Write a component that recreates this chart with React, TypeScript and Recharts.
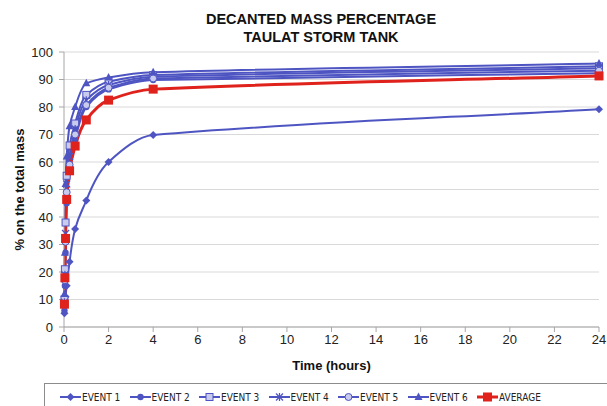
import React from 'react';
import { LineChart, Line, XAxis, YAxis, CartesianGrid, Legend } from 'recharts';

// time in hours, values in % of total mass
const TIME = [0.02, 0.04, 0.07, 0.12, 0.25, 0.5, 1, 2, 4, 24];
const EVENT1 = [5, 8, 11, 15, 23.7, 35.6, 46, 60, 69.8, 79.2];
const EVENT2 = [6, 15, 27, 45, 57, 68, 80, 86.4, 89.8, 92.3];
const EVENT3 = [10, 21, 38, 55, 66, 74, 84.4, 89.2, 91.6, 94.8];
const EVENT4 = [9, 19, 34, 52, 62, 72, 82.5, 88, 91, 94.1];
const EVENT5 = [8, 17, 31, 49, 59, 70, 80.7, 87, 90.4, 93.2];
const EVENT6 = [12, 27, 52, 62, 73, 80, 88.6, 90.7, 92.6, 95.8];
const AVERAGE = [8.3, 17.9, 32.2, 46.4, 56.8, 65.8, 75.3, 82.5, 86.5, 91.3];

const X_TICKS = [0, 2, 4, 6, 8, 10, 12, 14, 16, 18, 20, 22, 24];
const Y_TICKS = [0, 10, 20, 30, 40, 50, 60, 70, 80, 90, 100];

const BLUE = '#4e55c2';
const RED = '#e0221c';

const SERIES = [
  { key: 'e1', name: 'EVENT 1', values: EVENT1, color: BLUE, shape: 'diamond' },
  { key: 'e2', name: 'EVENT 2', values: EVENT2, color: BLUE, shape: 'circle' },
  { key: 'e3', name: 'EVENT 3', values: EVENT3, color: BLUE, shape: 'openSquare' },
  { key: 'e4', name: 'EVENT 4', values: EVENT4, color: BLUE, shape: 'star' },
  { key: 'e5', name: 'EVENT 5', values: EVENT5, color: BLUE, shape: 'openCircle' },
  { key: 'e6', name: 'EVENT 6', values: EVENT6, color: BLUE, shape: 'triangle' },
  { key: 'avg', name: 'AVERAGE', values: AVERAGE, color: RED, shape: 'square' },
];

const data = TIME.map((t, i) => {
  const row: Record<string, number> = { t };
  SERIES.forEach((s) => { row[s.key] = s.values[i]; });
  return row;
});

// smoothing close to the spreadsheet look: monotone hermite with a softer tangent
// (keeps the long 4h -> 24h segment nearly straight)
function smoothCurve(ctx: any) {
  let pts: number[][] = [];
  return {
    areaStart() {},
    areaEnd() {},
    lineStart() { pts = []; },
    point(x: number, y: number) { pts.push([+x, +y]); },
    lineEnd() {
      const n = pts.length;
      if (!n) return;
      ctx.moveTo(pts[0][0], pts[0][1]);
      if (n === 1) return;
      const s: number[] = [];
      for (let i = 0; i < n - 1; i++) {
        const dx = pts[i + 1][0] - pts[i][0];
        s.push(dx ? (pts[i + 1][1] - pts[i][1]) / dx : 0);
      }
      const m = pts.map((_, i) => {
        if (i === 0) return s[0];
        if (i === n - 1) return s[n - 2];
        const a = Math.abs(s[i - 1]);
        const b = Math.abs(s[i]);
        if (s[i - 1] * s[i] <= 0) return 0;
        return Math.sign(s[i]) * Math.min(1.5 * Math.min(a, b), Math.max(a, b));
      });
      for (let i = 0; i < n - 1; i++) {
        const [x0, y0] = pts[i];
        const [x1, y1] = pts[i + 1];
        const h = (x1 - x0) / 3;
        if (!h) { ctx.lineTo(x1, y1); continue; }
        ctx.bezierCurveTo(x0 + h, y0 + m[i] * h, x1 - h, y1 - m[i + 1] * h, x1, y1);
      }
    },
  };
}

function Marker({ cx, cy, shape, color }: { cx: number; cy: number; shape: string; color: string }) {
  switch (shape) {
    case 'diamond':
      return <polygon points={`${cx},${cy - 4} ${cx + 4},${cy} ${cx},${cy + 4} ${cx - 4},${cy}`} fill={color} />;
    case 'circle':
      return <circle cx={cx} cy={cy} r={3.2} fill={color} />;
    case 'openSquare':
      return <rect x={cx - 3.5} y={cy - 3.5} width={7} height={7} fill="#c8cbee" stroke={color} strokeWidth={1} />;
    case 'star':
      return (
        <g stroke={color} strokeWidth={1.2}>
          <line x1={cx - 3.5} y1={cy - 3.5} x2={cx + 3.5} y2={cy + 3.5} />
          <line x1={cx - 3.5} y1={cy + 3.5} x2={cx + 3.5} y2={cy - 3.5} />
          <line x1={cx} y1={cy - 4} x2={cx} y2={cy + 4} />
        </g>
      );
    case 'openCircle':
      return <circle cx={cx} cy={cy} r={3.5} fill="#c8cbee" stroke={color} strokeWidth={1} />;
    case 'triangle':
      return <polygon points={`${cx},${cy - 4.5} ${cx + 4},${cy + 3} ${cx - 4},${cy + 3}`} fill={color} />;
    default:
      return <rect x={cx - 4.5} y={cy - 4.5} width={9} height={9} fill={color} />;
  }
}

function LegendBox() {
  return (
    <div style={{ display: 'flex', alignItems: 'center', height: 26, paddingLeft: 15, fontFamily: '"Liberation Sans Narrow", "DejaVu Sans Condensed", "Liberation Sans", Arial, sans-serif', fontStretch: 'condensed', fontSize: 10, color: '#222', whiteSpace: 'nowrap' }}>
      {SERIES.map((s) => (
        <div key={s.key} style={{ display: 'flex', alignItems: 'center', width: 69.5, flex: 'none' }}>
          <svg width={21} height={10} style={{ flex: 'none' }}>
            <line x1={0} y1={5} x2={21} y2={5} stroke={s.color} strokeWidth={s.key === 'avg' ? 3 : 2} />
            <Marker cx={10.5} cy={5} shape={s.shape} color={s.color} />
          </svg>
          <span style={{ marginLeft: 1 }}>{s.name}</span>
        </div>
      ))}
    </div>
  );
}

export default function App() {
  return (
    <div style={{ position: 'absolute', left: 0, top: 0, width: 607, height: 406, background: '#fff', overflow: 'hidden' }}>
      <div style={{ position: 'absolute', left: 0, top: 10, width: 642, textAlign: 'center', fontFamily: '"Liberation Sans", Arial, sans-serif', fontWeight: 'bold', fontSize: 14.5, lineHeight: '18px', color: '#111' }}>
        DECANTED MASS PERCENTAGE<br />TAULAT STORM TANK
      </div>
      <LineChart width={607} height={406} data={data} margin={{ top: 52, right: 8, bottom: 44, left: 0 }}>
        <CartesianGrid vertical={false} stroke="#d9d9d9" />
        <XAxis
          dataKey="t"
          type="number"
          domain={[0, 24]}
          ticks={X_TICKS}
          stroke="#a6a6a6"
          tickSize={5}
          tickMargin={3}
          height={35}
          tick={{ fill: '#222', fontFamily: '"Liberation Sans", Arial, sans-serif', fontSize: 13 }}
          label={(p: any) => (
            <text x={p.viewBox.x + p.viewBox.width / 2} y={370} textAnchor="middle" fontFamily='"Liberation Sans", Arial, sans-serif' fontWeight="bold" fontSize={13} fill="#111">
              Time (hours)
            </text>
          )}
        />
        <YAxis
          domain={[0, 100]}
          ticks={Y_TICKS}
          width={64}
          stroke="#a6a6a6"
          tickSize={5}
          tickMargin={6}
          tick={{ fill: '#222', fontFamily: '"Liberation Sans", Arial, sans-serif', fontSize: 13 }}
          label={(p: any) => (
            <text x={24} y={p.viewBox.y + p.viewBox.height / 2} transform={`rotate(-90 24 ${p.viewBox.y + p.viewBox.height / 2})`} textAnchor="middle" fontFamily='"Liberation Sans", Arial, sans-serif' fontWeight="bold" fontSize={13} fill="#111">
              % on the total mass
            </text>
          )}
        />
        <Legend
          verticalAlign="middle"
          align="center"
          content={() => <LegendBox />}
          wrapperStyle={{ left: 44, top: 383, width: 600, height: 30, border: '1px solid #8c8c8c', background: '#fff' }}
        />
        {SERIES.map((s) => (
          <Line
            key={s.key}
            type={smoothCurve as any}
            dataKey={s.key}
            name={s.name}
            stroke={s.color}
            strokeWidth={s.key === 'avg' ? 3 : 2}
            isAnimationActive={false}
            dot={(p: any) => <Marker key={`${s.key}-${p.index}`} cx={p.cx} cy={p.cy} shape={s.shape} color={s.color} />}
            activeDot={false}
          />
        ))}
      </LineChart>
    </div>
  );
}
